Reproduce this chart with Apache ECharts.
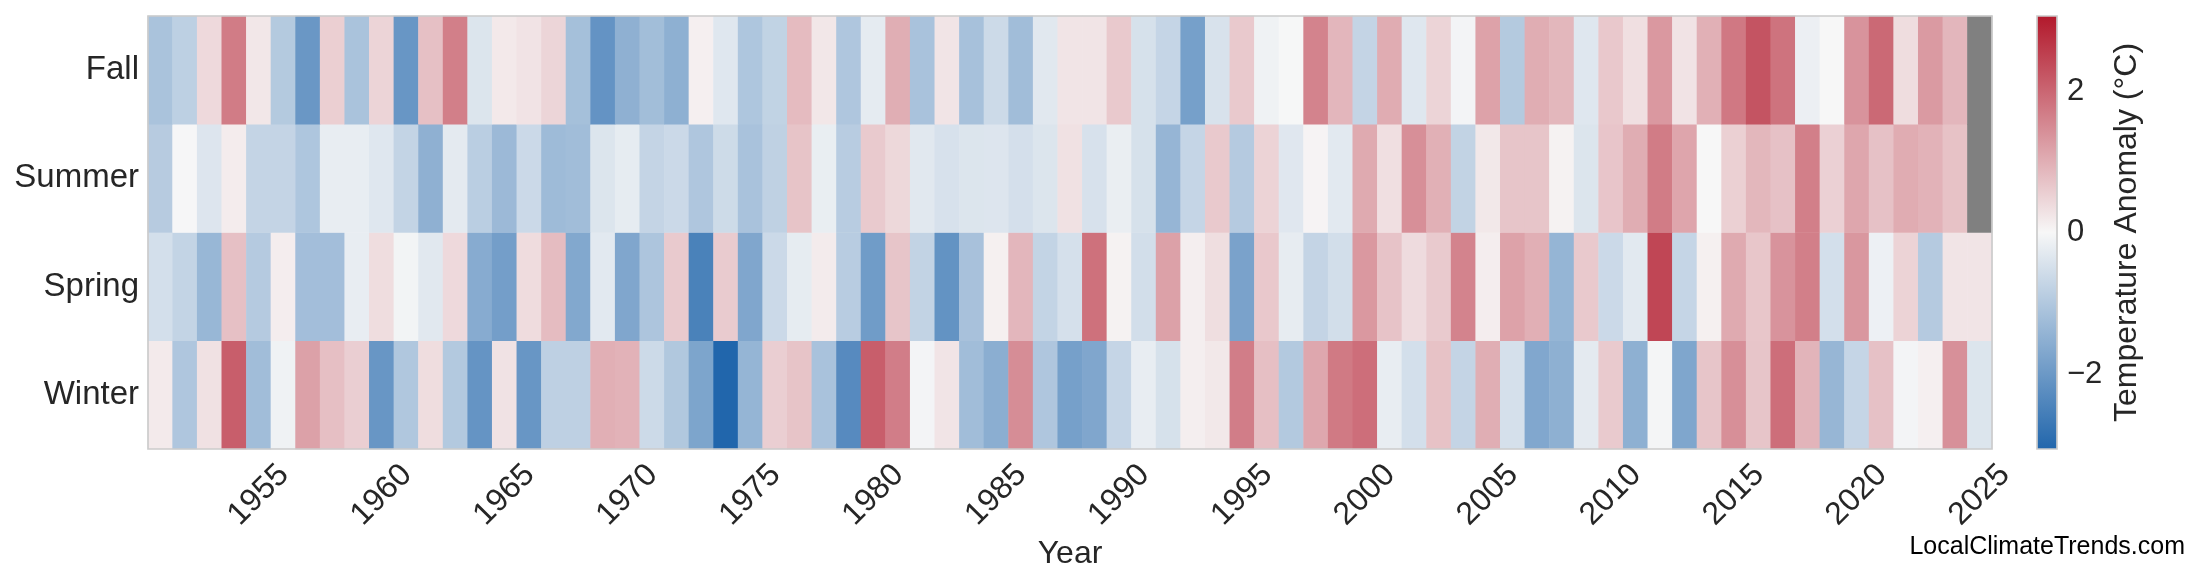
<!DOCTYPE html>
<html>
<head>
<meta charset="utf-8">
<script src="https://cdn.jsdelivr.net/npm/echarts@6/dist/echarts.min.js"></script>
<style>
html,body{margin:0;padding:0;background:#fff;}
#chart{width:2200px;height:585px;}
</style>
</head>
<body>
<div id="chart"></div>
<script>
const years = ['1951','1952','1953','1954','1955','1956','1957','1958','1959','1960',
  '1961','1962','1963','1964','1965','1966','1967','1968','1969','1970',
  '1971','1972','1973','1974','1975','1976','1977','1978','1979','1980',
  '1981','1982','1983','1984','1985','1986','1987','1988','1989','1990',
  '1991','1992','1993','1994','1995','1996','1997','1998','1999','2000',
  '2001','2002','2003','2004','2005','2006','2007','2008','2009','2010',
  '2011','2012','2013','2014','2015','2016','2017','2018','2019','2020',
  '2021','2022','2023','2024','2025'];
const seasons = ['Winter','Spring','Summer','Fall'];

const winter = [0.18,-1.03,0.30,2.10,-1.23,-0.11,1.18,0.77,0.56,-2.04,
  -1.01,0.36,-0.97,-2.09,0.29,-2.04,-0.82,-0.82,0.99,0.95,
  -0.61,-1.00,-1.74,-3.06,-1.40,0.56,0.70,-1.12,-2.29,2.10,
  1.67,-0.06,0.26,-1.23,-1.54,1.45,-1.03,-1.84,-1.70,-0.71,
  -0.21,-0.47,0.12,0.21,1.67,0.77,-0.97,1.10,1.72,1.88,
  -0.21,-0.51,0.73,-0.73,1.00,-0.49,-1.69,-1.50,-0.27,0.62,
  -1.50,-0.04,-1.71,0.69,1.43,0.69,1.88,0.92,-1.37,-0.71,
  0.74,-0.06,0.11,1.41,-0.39];
const spring = [-0.51,-0.74,-1.36,0.75,-0.94,0.14,-1.20,-1.20,-0.21,0.36,
  -0.07,-0.31,0.41,-1.60,-1.87,0.37,0.81,-1.67,-0.30,-1.70,
  -1.06,0.62,-2.47,0.60,-1.70,-0.63,-0.24,0.16,-0.90,-1.93,
  0.69,-0.76,-2.12,-1.13,0.10,0.89,-0.74,-0.49,1.84,0.07,
  -0.53,1.18,0.12,0.34,-1.79,0.64,-0.23,-0.73,-0.53,1.30,
  0.71,0.38,0.62,1.59,0.14,1.17,0.99,-1.40,0.63,-0.63,
  -0.30,2.43,-0.71,0.10,1.06,0.67,1.37,1.65,-0.51,1.32,
  -0.14,0.49,-0.94,0.26,0.26];
const summer = [-0.92,-0.02,-0.37,0.15,-0.73,-0.73,-1.04,-0.21,-0.21,-0.34,
  -0.74,-1.49,-0.27,-0.87,-1.30,-0.63,-1.27,-1.23,-0.39,-0.24,
  -0.73,-0.63,-1.03,-0.60,-1.12,-0.80,0.70,-0.20,-0.90,0.62,
  0.43,-0.31,-0.46,-0.39,-0.37,-0.50,-0.39,0.30,-0.46,-0.19,
  -0.47,-1.39,-0.71,0.63,-0.94,0.49,-0.33,0.05,-0.30,1.06,
  0.33,1.43,0.97,-0.76,0.21,0.69,0.69,0.07,-0.39,0.68,
  1.02,1.69,1.13,0.00,0.54,0.88,0.74,1.65,0.53,1.11,
  0.74,1.03,0.95,0.73,null];
const fall = [-1.10,-0.83,0.41,1.69,0.22,-0.96,-2.02,0.55,-1.10,0.48,
  -2.04,0.75,1.65,-0.39,0.19,0.27,0.47,-1.17,-2.10,-1.49,
  -1.21,-1.50,0.11,-0.34,-1.04,-0.77,0.82,0.22,-1.03,-0.26,
  1.00,-1.12,0.26,-1.14,-0.61,-1.23,-0.31,0.26,0.26,0.63,
  -0.47,-0.71,-1.84,-0.44,0.63,-0.11,-0.01,1.59,0.89,-0.73,
  1.03,-0.34,0.48,-0.06,1.17,-0.96,1.02,0.88,-0.34,0.64,
  0.33,1.30,0.27,0.97,1.74,2.24,1.81,-0.16,0.00,1.37,
  1.95,0.36,1.28,0.89,null];

const colorbarTicks = [-2, 0, 2];
const vLimit = 3.06;

const rows = [winter, spring, summer, fall];
const cells = [];
const missing = [];
rows.forEach((arr, yi) => {
  arr.forEach((v, xi) => {
    if (v === null) missing.push([xi, yi, 0]);
    else cells.push([xi, yi, v]);
  });
});

const FONT = "'Liberation Sans', Arial, sans-serif";
const TXT = '#262626';

const chart = echarts.init(document.getElementById('chart'), null, {renderer: 'canvas'});
chart.setOption({
  animation: false,
  backgroundColor: '#ffffff',
  textStyle: {fontFamily: FONT},
  grid: [
    {left: 148, right: 208, top: 16, bottom: 136, show: true, z: 10,
     backgroundColor: 'transparent', borderColor: '#cccccc', borderWidth: 1.7},
    {left: 2037, width: 20, top: 16, bottom: 136, show: true, z: 10,
     backgroundColor: new echarts.graphic.LinearGradient(0, 0, 0, 1, [
       {offset: 0, color: '#b2182b'}, {offset: 0.5, color: '#f7f7f7'}, {offset: 1, color: '#2166ac'}]),
     borderColor: '#cccccc', borderWidth: 1.7}
  ],
  xAxis: [
    {type: 'category', data: years, gridIndex: 0,
     axisLine: {show: false}, axisTick: {show: false}, splitLine: {show: false},
     axisLabel: {interval: (i, v) => (+v) % 5 === 0, rotate: 45, align: 'center', verticalAlign: 'middle',
       margin: 46, fontSize: 32, color: TXT, fontFamily: FONT},
     name: 'Year', nameLocation: 'middle', nameGap: 87,
     nameTextStyle: {fontSize: 32, color: TXT, fontFamily: FONT}},
    {type: 'category', data: [''], gridIndex: 1, show: false}
  ],
  yAxis: [
    {type: 'category', data: seasons, gridIndex: 0,
     axisLine: {show: false}, axisTick: {show: false}, splitLine: {show: false},
     axisLabel: {fontSize: 33, color: TXT, margin: 9, fontFamily: FONT}},
    {type: 'value', gridIndex: 1, min: -vLimit, max: vLimit, position: 'right',
     axisLine: {show: false}, axisTick: {show: false}, splitLine: {show: false},
     axisLabel: {customValues: colorbarTicks, fontSize: 31, color: TXT, margin: 10, fontFamily: FONT,
       formatter: v => (v < 0 ? '\u2212' + Math.abs(v) : String(v))},
     name: 'Temperature Anomaly (\u00B0C)', nameLocation: 'middle', nameRotate: 90, nameGap: 54,
     nameTextStyle: {fontSize: 32, color: TXT, fontFamily: FONT}}
  ],
  visualMap: {
    type: 'continuous', show: false, min: -vLimit, max: vLimit, seriesIndex: 0, dimension: 2,
    inRange: {color: ['#2166ac', '#f7f7f7', '#b2182b']}
  },
  series: [
    {type: 'heatmap', xAxisIndex: 0, yAxisIndex: 0, data: cells, itemStyle: {borderWidth: 0}, emphasis: {disabled: true}},
    {type: 'heatmap', xAxisIndex: 0, yAxisIndex: 0, data: missing, itemStyle: {color: '#808080', borderWidth: 0}, emphasis: {disabled: true}}
  ],
  graphic: [
    {type: 'text', right: 15, top: 535,
     style: {text: 'LocalClimateTrends.com', font: "25px 'Liberation Sans', Arial, sans-serif", fill: '#000000'}}
  ]
});
</script>
</body>
</html>
